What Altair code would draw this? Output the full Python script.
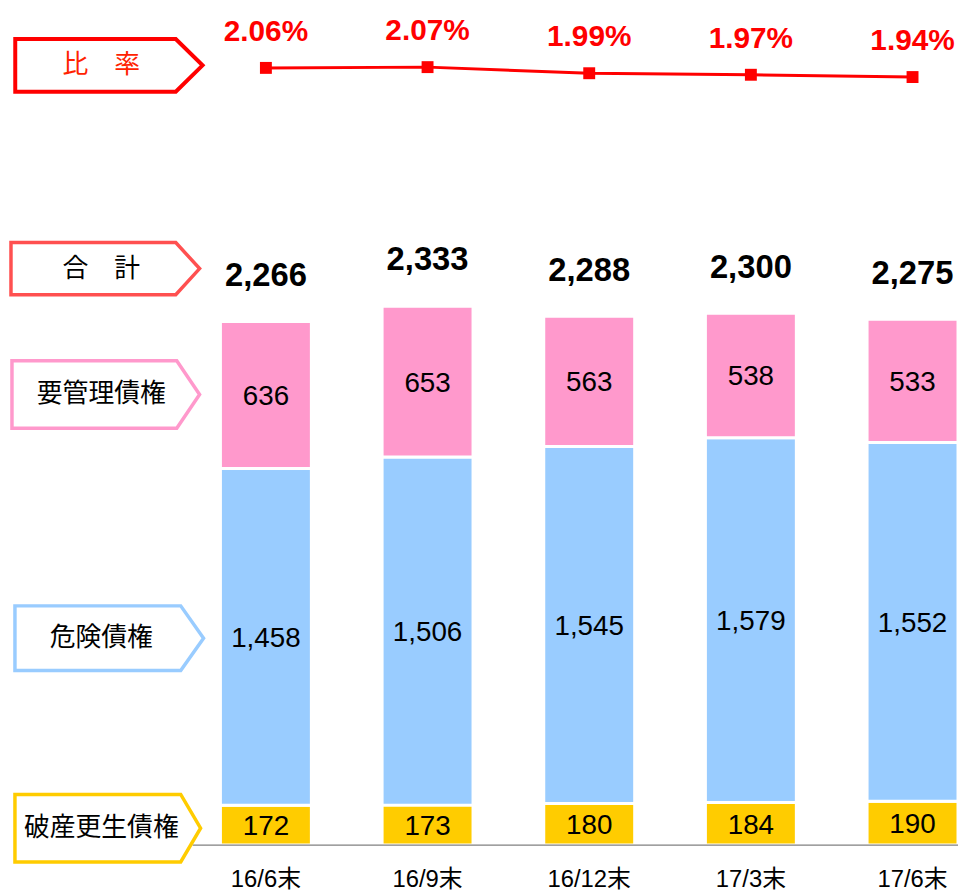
import altair as alt
import pandas as pd

# ---- data ----
periods = ["16/6末", "16/9末", "16/12末", "17/3末", "17/6末"]
hasan = [172, 173, 180, 184, 190]        # 破産更生債権
kiken = [1458, 1506, 1545, 1579, 1552]   # 危険債権
yokanri = [636, 653, 563, 538, 533]      # 要管理債権
totals = [2266, 2333, 2288, 2300, 2275]  # 合計
ratios = [2.06, 2.07, 1.99, 1.97, 1.94]  # 比率 (%)

series_names = ["破産更生債権", "危険債権", "要管理債権"]
series_colors = ["#FFCC00", "#99CCFF", "#FF99CC"]

rows = []
for i, p in enumerate(periods):
    for k, (name, vals) in enumerate(zip(series_names, [hasan, kiken, yokanri])):
        rows.append({"period": p, "series": name, "value": vals[i], "order": k})
long_df = pd.DataFrame(rows)
tot_df = pd.DataFrame({"period": periods, "total": totals})
ratio_df = pd.DataFrame({"period": periods, "ratio": ratios})

NUM_FONT = "Liberation Sans, Arial, Noto Sans CJK JP"
JP_FONT = "Noto Sans CJK JP"

W, H = 743, 840
PLOT_LEFT_PAGE, PLOT_TOP_PAGE = 222, 8

X = alt.X(
    "period:N",
    scale=alt.Scale(domain=periods, paddingInner=0.4375, paddingOuter=0),
    axis=alt.Axis(title=None, domain=False, ticks=False, labelAngle=0,
                  labelFontSize=24, labelFont=NUM_FONT, labelColor="#000000",
                  labelPadding=23),
)
YB = alt.Scale(domain=[0, 3608], zero=True, nice=False)
YL = alt.Scale(domain=[-8.121, 2.802], zero=False, nice=False)

stacked = alt.Chart(long_df).transform_stack(
    stack="value", groupby=["period"], as_=["v0", "v1"],
    sort=[alt.SortField("order", order="ascending")],
)

bars = stacked.mark_bar(stroke="white", strokeWidth=3).encode(
    x=X,
    y=alt.Y("v0:Q", scale=YB, axis=None),
    y2="v1:Q",
    color=alt.Color("series:N", scale=alt.Scale(domain=series_names, range=series_colors), legend=None),
)

seg_text = stacked.transform_calculate(mid="(datum.v0 + datum.v1) / 2").mark_text(
    font=NUM_FONT, fontSize=28, color="#000000", baseline="middle", dy=2
).encode(
    x=X,
    y=alt.Y("mid:Q", scale=YB, axis=None),
    text=alt.Text("value:Q", format=",d"),
)

tot_text = alt.Chart(tot_df).mark_text(
    font=NUM_FONT, fontSize=33, fontWeight="bold", color="#000000", baseline="middle", dy=-46
).encode(
    x=X,
    y=alt.Y("total:Q", scale=YB, axis=None),
    text=alt.Text("total:Q", format=",d"),
)

line = alt.Chart(ratio_df).mark_line(color="#FF0000", strokeWidth=3).encode(
    x=X, y=alt.Y("ratio:Q", scale=YL, axis=None)
)
pts = alt.Chart(ratio_df).mark_point(
    shape="square", filled=True, size=144, color="#FF0000", opacity=1
).encode(x=X, y=alt.Y("ratio:Q", scale=YL, axis=None))
ratio_text = alt.Chart(ratio_df).transform_calculate(
    lab="format(datum.ratio, '.2f') + '%'"
).mark_text(
    font=NUM_FONT, fontSize=30, fontWeight="bold", color="#FF0000", baseline="middle", dy=-36
).encode(x=X, y=alt.Y("ratio:Q", scale=YL, axis=None), text="lab:N")

dummy = pd.DataFrame({"a": [0]})
base_rule = alt.Chart(dummy).mark_rule(color="#808080", strokeWidth=1.3).encode(
    x=alt.value(194 - PLOT_LEFT_PAGE), x2=alt.value(W), y=alt.value(H)
)

# ---- label boxes (annotation layout, page pixel geometry) ----
# text, outline colour, text colour, stroke width, left, slant start, tip, top, bottom
boxes = [
    ("比　率", "#FF0000", "#FF2200", 4.0, 15.3, 177, 204, 36, 89),
    ("合　計", "#FF5050", "#000000", 3.5, 11, 177, 201, 241, 293.5),
    ("要管理債権", "#FF99CC", "#000000", 3.5, 12, 178, 201, 360, 428),
    ("危険債権", "#99CCFF", "#000000", 3.5, 15, 182, 205, 607, 672),
    ("破産更生債権", "#FFCC00", "#000000", 3.5, 15, 182, 202, 797, 865),
]
box_layers = []
CX = 100.0
for label, col, tcol, sw, L, S, R, T, B in boxes:
    cy = (T + B) / 2.0
    f = lambda v: f"{v / 100.0:.4f}"
    path = (f"M{f(L - CX)},{f(T - cy)}L{f(S - CX)},{f(T - cy)}L{f(R - CX)},0"
            f"L{f(S - CX)},{f(B - cy)}L{f(L - CX)},{f(B - cy)}Z")
    box_layers.append(
        alt.Chart(dummy).mark_point(
            shape=path, size=40000, filled=False, stroke=col, strokeWidth=sw, opacity=1,
            strokeJoin="miter",
        ).encode(x=alt.value(CX - PLOT_LEFT_PAGE), y=alt.value(cy - PLOT_TOP_PAGE))
    )
    box_layers.append(
        alt.Chart(dummy).mark_text(
            text=label, font=JP_FONT, fontSize=26, color=tcol, baseline="middle", align="center"
        ).encode(x=alt.value(102 - PLOT_LEFT_PAGE), y=alt.value(cy - PLOT_TOP_PAGE))
    )

chart = alt.layer(
    bars, seg_text, tot_text, line, pts, ratio_text, base_rule, *box_layers
).resolve_scale(y="independent").properties(
    width=W, height=H,
    autosize=alt.AutoSizeParams(type="none"),
    padding={"left": PLOT_LEFT_PAGE - 8, "top": 0, "right": 0, "bottom": 48},
).configure_view(stroke=None)

chart.save("out.html", embed_options={"renderer": "svg", "actions": False})
